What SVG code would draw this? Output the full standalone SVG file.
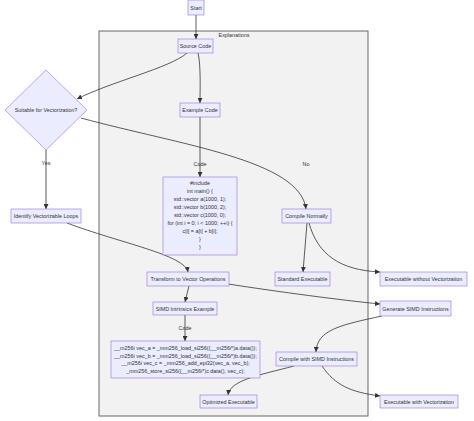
<svg xmlns="http://www.w3.org/2000/svg" width="474" height="421" viewBox="0 0 474 421">
<defs>
<style>
.n{fill:#ECECFF;stroke:#9370DB;stroke-width:0.6}
.t{font-family:"Liberation Sans",Arial,sans-serif;font-size:5.4px;fill:#333;text-anchor:middle;dominant-baseline:central}
.e{fill:none;stroke:#333;stroke-width:0.8}
.cl{fill:#F2F2F2;stroke:#666;stroke-width:1}
</style>
<marker id="ah" viewBox="0 0 10 10" refX="10" refY="5" markerWidth="5" markerHeight="5" markerUnits="userSpaceOnUse" orient="auto">
<path d="M0,0 L10,5 L0,10 z" fill="#333"/>
</marker>
</defs>
<rect width="474" height="421" fill="#fff"/>
<g id="cluster">
<rect class="cl" x="99" y="31" width="269" height="385"/>
<text class="t" x="234" y="35">Explanations</text>
</g>
<g id="edges">
<path class="e" d="M196,15 L196,39" marker-end="url(#ah)"/>
<path class="e" d="M187,53 C170,68 110,82 77,99" marker-end="url(#ah)"/>
<path class="e" d="M198,53 C201,65 200,90 200,103" marker-end="url(#ah)"/>
<path class="e" d="M200,117 L200,177" marker-end="url(#ah)"/>
<path class="e" d="M81,118 C180,145 300,160 306,209" marker-end="url(#ah)"/>
<path class="e" d="M46,150 L46,209" marker-end="url(#ah)"/>
<path class="e" d="M67,223 C120,243 185,255 188,272" marker-end="url(#ah)"/>
<path class="e" d="M307,223 L303,272" marker-end="url(#ah)"/>
<path class="e" d="M309,223 C318,255 340,270 380,272" marker-end="url(#ah)"/>
<path class="e" d="M228,284 C280,292 340,300 380,304" marker-end="url(#ah)"/>
<path class="e" d="M189,286 L185,302" marker-end="url(#ah)"/>
<path class="e" d="M185,315 L185,341" marker-end="url(#ah)"/>
<path class="e" d="M382,316 C340,325 317,330 316,352" marker-end="url(#ah)"/>
<path class="e" d="M294,366 C260,375 230,380 228,395" marker-end="url(#ah)"/>
<path class="e" d="M322,366 C335,385 350,392 380,396" marker-end="url(#ah)"/>
<g id="edge-labels">
<text class="t" x="200" y="164">Code</text>
<text class="t" x="306" y="164">No</text>
<text class="t" x="46" y="163">Yes</text>
<text class="t" x="185" y="328">Code</text>
</g>
</g>
<g id="start"><rect class="n" x="188" y="0" width="16" height="15"/><text class="t" x="196" y="7.5">Start</text></g>
<g id="source"><rect class="n" x="178" y="39" width="35" height="14"/><text class="t" x="195.5" y="46">Source Code</text></g>
<g id="example"><rect class="n" x="180" y="103" width="40" height="14"/><text class="t" x="200" y="110">Example Code</text></g>
<g id="suitable"><polygon class="n" points="46,70 87,110 46,150 5,110"/><text class="t" x="46" y="110">Suitable for Vectorization?</text></g>
<g id="identify"><rect class="n" x="11" y="209" width="70" height="14"/><text class="t" x="46" y="216">Identify Vectorizable Loops</text></g>
<g id="code1"><rect class="n" x="163" y="177" width="74" height="78"/>
<text class="t" x="200" y="183">#include</text>
<text class="t" x="200" y="191">int main() {</text>
<text class="t" x="200" y="199">std::vector a(1000, 1);</text>
<text class="t" x="200" y="207">std::vector b(1000, 2);</text>
<text class="t" x="200" y="215">std::vector c(1000, 0);</text>
<text class="t" x="200" y="223">for (int i = 0; i &lt; 1000; ++i) {</text>
<text class="t" x="200" y="231">c[i] = a[i] + b[i];</text>
<text class="t" x="200" y="239">}</text>
<text class="t" x="200" y="247">}</text>
</g>
<g id="compileNormally"><rect class="n" x="282" y="209" width="49" height="14"/><text class="t" x="306.5" y="216">Compile Normally</text></g>
<g id="standardExe"><rect class="n" x="275" y="272" width="55" height="14"/><text class="t" x="302.5" y="279">Standard Executable</text></g>
<g id="exeNoVec"><rect class="n" x="380" y="272" width="87" height="14"/><text class="t" x="423.5" y="279">Executable without Vectorization</text></g>
<g id="transform"><rect class="n" x="147" y="272" width="82" height="14"/><text class="t" x="188" y="279">Transform to Vector Operations</text></g>
<g id="generate"><rect class="n" x="380" y="301" width="71" height="15"/><text class="t" x="415.5" y="308.5">Generate SIMD Instructions</text></g>
<g id="simdExample"><rect class="n" x="153" y="302" width="64" height="13"/><text class="t" x="185" y="308.5">SIMD Intrinsics Example</text></g>
<g id="code2"><rect class="n" x="111" y="341" width="149" height="37"/>
<text class="t" x="185.5" y="348">__m256i vec_a = _mm256_load_si256((__m256i*)a.data());</text>
<text class="t" x="185.5" y="355.5">__m256i vec_b = _mm256_load_si256((__m256i*)b.data());</text>
<text class="t" x="185.5" y="363">__m256i vec_c = _mm256_add_epi32(vec_a, vec_b);</text>
<text class="t" x="185.5" y="370.5">_mm256_store_si256((__m256i*)c.data(), vec_c);</text>
</g>
<g id="compileSimd"><rect class="n" x="276" y="352" width="81" height="14"/><text class="t" x="316.5" y="359">Compile with SIMD Instructions</text></g>
<g id="optimized"><rect class="n" x="200" y="395" width="57" height="13"/><text class="t" x="228.5" y="401.5">Optimized Executable</text></g>
<g id="exeVec"><rect class="n" x="380" y="395" width="78" height="13"/><text class="t" x="419" y="401.5">Executable with Vectorization</text></g>
</svg>
